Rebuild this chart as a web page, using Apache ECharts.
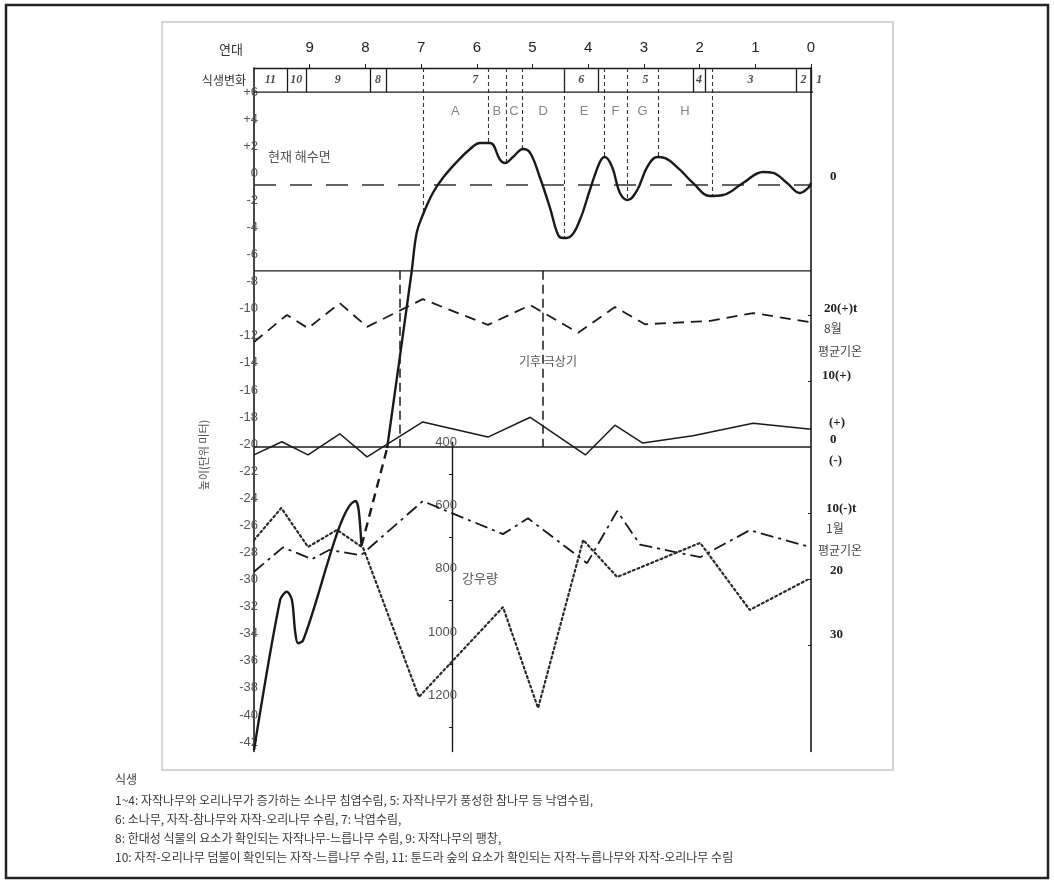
<!DOCTYPE html>
<html><head><meta charset="utf-8">
<script src="https://cdn.jsdelivr.net/npm/echarts@6/dist/echarts.min.js"></script>
<style>html,body{margin:0;padding:0;background:#fff}#c{width:1054px;height:880px}</style>
</head><body><div id="c"></div>
<script>
// ================= DATA =================
// x = 천년 전 (ka BP), 0 = 현재
const yearTicks   = [0, 1, 2, 3, 4, 5, 6, 7, 8, 9];
const depthTicks  = [-42,-40,-38,-36,-34,-32,-30,-28,-26,-24,-22,-20,-18,-16,-14,-12,-10,-8,-6,-4,-2,0,2,4,6];
const precipTicks = [400, 600, 800, 1000, 1200];
const precipMinorTicks = [500, 700, 900, 1100, 1300];

// 해수면 곡선 (m)
const seaLowKa  = [10.0, 9.53, 9.41, 9.32, 9.26, 9.21, 9.12, 8.17, 8.12, 8.07];
const seaLowM   = [-42.6, -31.5, -30.9, -31.5, -33.9, -34.7, -34.5, -24.2, -24.9, -27.5];
const seaGapKa  = [8.07, 7.61];
const seaGapM   = [-27.5, -20.3];
const seaHighKa = [7.61, 7.17, 7.08, 6.97, 6.79, 6.61, 6.36, 6.12, 5.94, 5.76, 5.58, 5.49, 5.35, 5.17, 5.04, 4.87, 4.69, 4.54, 4.45, 4.33, 4.15, 3.97, 3.79, 3.70, 3.57, 3.43, 3.29, 3.12, 2.94, 2.76, 2.62, 2.35, 2.12, 1.81, 1.58, 1.22, 0.86, 0.68, 0.43, 0.20, 0.05, 0.0];
const seaHighM  = [-20.3, -7.27, -4.41, -3.08, -1.45, -0.34, 0.84, 1.80, 2.24, 2.24, 0.99, 0.76, 1.21, 1.80, 1.50, -0.27, -2.49, -4.55, -4.78, -4.70, -3.45, -1.23, 0.84, 1.21, 0.47, -1.45, -1.97, -1.23, 0.47, 1.21, 1.13, 0.25, -0.71, -1.67, -1.60, -0.71, 0.10, 0.03, -0.71, -1.45, -1.08, -0.71];
const presentSeaLevel = -0.86;
const panelDivider = -7.2;

// 식생변화 구간
const vegBounds = [10, 9.41, 9.07, 7.92, 7.63, 4.43, 3.82, 2.12, 1.90, 0.27, 0, -0.3];
const vegLabels = ['11', '10', '9', '8', '7', '6', '5', '4', '3', '2', '1'];
// 해수면 시기 구분
const periodBounds = [6.97, 5.80, 5.48, 5.19, 4.43, 3.72, 3.30, 2.75, 1.78];
const periodLabels = ['A', 'B', 'C', 'D', 'E', 'F', 'G', 'H'];
// 기후 극상기
const optimumBounds = [7.38, 4.81];

// 기온 (°C)
const augKa  = [10.0, 9.41, 9.03, 8.46, 7.97, 6.97, 5.80, 5.04, 4.18, 3.52, 2.98, 1.81, 1.04, 0.0];
const augT   = [15.9, 20.0, 18.0, 21.8, 18.2, 22.4, 18.5, 21.5, 17.3, 21.2, 18.6, 19.1, 20.3, 18.9];
const annKa  = [10.0, 9.50, 9.03, 8.46, 7.97, 6.97, 5.80, 5.04, 4.05, 3.52, 3.02, 2.12, 1.04, 0.0];
const annT   = [-1.2, 0.8, -1.2, 2.0, -1.5, 3.8, 1.5, 4.5, -1.2, 3.3, 0.6, 1.7, 3.6, 2.7];
const janKa  = [10.0, 9.48, 8.96, 8.65, 8.08, 6.97, 5.53, 5.08, 4.02, 3.48, 3.07, 1.99, 1.10, 0.0];
const janT   = [-18.9, -15.2, -17.0, -15.6, -16.4, -8.2, -13.2, -10.8, -17.6, -9.7, -14.8, -16.7, -12.6, -15.2];
// 강우량 (mm)
const rainKa = [10.0, 9.51, 9.03, 8.51, 8.04, 7.04, 5.53, 4.90, 4.09, 3.48, 1.99, 1.10, 0.07];
const rainP  = [709, 608, 731, 677, 734, 1205, 921, 1240, 709, 826, 718, 930, 835];

// ================= LAYOUT =================
const W = 1054, H = 880;
const GL = 254, GR = 811, GT = 68, GB = 751.5;
const Y_MAX = 7.78, Y_MIN = -42.7;
const pxPerM = (GB - GT) / (Y_MAX - Y_MIN);
const TEMP_ZERO_Y = 447, TEMP_PX = 6.6;
const P400_Y = 442.2, P_PX = 0.3165, P_AXIS_X = 452;
const tempZeroM = Y_MAX - (TEMP_ZERO_Y - GT) / pxPerM;

const xy = (xs, ys) => xs.map((x, i) => [x, ys[i]]);
function interp(xs, ys, x) {
  for (let i = 0; i < xs.length - 1; i++) {
    if ((xs[i] - x) * (xs[i + 1] - x) <= 0) {
      const t = (x - xs[i]) / (xs[i + 1] - xs[i]);
      return ys[i] + t * (ys[i + 1] - ys[i]);
    }
  }
  return ys[ys.length - 1];
}
const mid = (arr) => arr.slice(0, -1).map((b, i) => (b + arr[i + 1]) / 2);

const INK = '#1a1a1a';
const KFONT = '"Noto Sans CJK KR", "Noto Sans", sans-serif';

const chart = echarts.init(document.getElementById('c'), null, { renderer: 'canvas' });

const lineSeries = (data, style, extra) => Object.assign({
  type: 'line', data, symbol: 'none', silent: true, animation: false,
  lineStyle: style, xAxisIndex: 0, yAxisIndex: 0, clip: false, z: 3
}, extra || {});

const series = [
  // sea level curve
  lineSeries(xy(seaLowKa, seaLowM), { color: INK, width: 2.4, join: 'round' }, { smooth: 0.3, z: 5 }),
  lineSeries(xy(seaGapKa, seaGapM), { color: INK, width: 2.4, type: [9, 6] }, { z: 5 }),
  lineSeries(xy(seaHighKa, seaHighM), { color: INK, width: 2.4, join: 'round' }, { smooth: 0.4, z: 5 }),
  // present sea level
  lineSeries([[10, presentSeaLevel], [0, presentSeaLevel]], { color: '#333', width: 1.4, type: [22, 14] }),
  // panel divider
  lineSeries([[10, panelDivider], [0, panelDivider]], { color: INK, width: 1.3 }),
  // 0 degree line (temperature axis)
  lineSeries([[10, 0], [0, 0]], { color: INK, width: 1.3 }, { yAxisIndex: 1 }),
  // vegetation box bottom
  lineSeries([[vegBounds[0], 6], [vegBounds[vegBounds.length - 1], 6]], { color: INK, width: 1.3 }),
  // temperatures
  lineSeries(xy(augKa, augT), { color: INK, width: 1.8, type: [11, 7] }, { yAxisIndex: 1 }),
  lineSeries(xy(annKa, annT), { color: INK, width: 1.5 }, { yAxisIndex: 1 }),
  lineSeries(xy(janKa, janT), { color: INK, width: 1.8, type: [13, 5, 3, 5] }, { yAxisIndex: 1 }),
  // precipitation (second grid)
  lineSeries(xy(rainKa, rainP), { color: '#2a2a2a', width: 2.2, type: [2, 3], cap: 'round' }, { xAxisIndex: 1, yAxisIndex: 2 }),
  // vegetation box separators
  {
    type: 'lines', coordinateSystem: 'cartesian2d', xAxisIndex: 0, yAxisIndex: 0, silent: true, animation: false,
    lineStyle: { color: INK, width: 1.3, opacity: 1 },
    data: vegBounds.slice(1, -1).map(b => ({ coords: [[b, 6], [b, Y_MAX]] }))
  },
  // period boundaries (dashed, to the curve)
  {
    type: 'lines', coordinateSystem: 'cartesian2d', xAxisIndex: 0, yAxisIndex: 0, silent: true, animation: false,
    lineStyle: { color: '#333', width: 1.1, type: [4, 3], opacity: 1 },
    data: periodBounds.map(b => ({ coords: [[b, Y_MAX], [b, interp(seaHighKa, seaHighM, b)]] }))
  },
  // climate optimum boundaries
  {
    type: 'lines', coordinateSystem: 'cartesian2d', xAxisIndex: 0, yAxisIndex: 0, silent: true, animation: false,
    lineStyle: { color: INK, width: 1.5, type: [9, 5], opacity: 1 },
    data: optimumBounds.map(b => ({ coords: [[b, panelDivider], [b, tempZeroM]] }))
  },
  // vegetation labels
  {
    type: 'scatter', xAxisIndex: 0, yAxisIndex: 0, symbolSize: 0, silent: true, animation: false, clip: false,
    data: mid(vegBounds).map((c, i) => ({ value: [c, 6.89], name: vegLabels[i] })),
    label: { show: true, position: 'inside', formatter: p => p.name, color: INK,
      fontFamily: '"Liberation Serif", serif', fontStyle: 'italic', fontWeight: 'bold', fontSize: 12 }
  },
  // period labels
  {
    type: 'scatter', xAxisIndex: 0, yAxisIndex: 0, symbolSize: 0, silent: true, animation: false, clip: false,
    data: mid(periodBounds).map((c, i) => ({ value: [c, 4.6], name: periodLabels[i] })),
    label: { show: true, position: 'inside', formatter: p => p.name, color: '#666',
      fontFamily: '"Liberation Sans", sans-serif', fontSize: 13 }
  }
];

const gT = (text, x, y, o) => ({
  type: 'text', x, y, silent: true, z: 10,
  style: Object.assign({ text, fill: '#444', font: '12px ' + KFONT, textAlign: 'left', textVerticalAlign: 'middle' }, o || {})
});
const NUMF = 'bold 13px "Liberation Serif", serif';

const legendLines = [
  '식생',
  '1~4: 자작나무와 오리나무가 증가하는 소나무 침엽수림, 5: 자작나무가 풍성한 참나무 등 낙엽수림,',
  '6: 소나무, 자작-참나무와 자작-오리나무 수림, 7: 낙엽수림,',
  '8: 한대성 식물의 요소가 확인되는 자작나무-느릅나무 수림, 9: 자작나무의 팽창,',
  '10: 자작-오리나무 덤불이 확인되는 자작-느릅나무 수림, 11: 툰드라 숲의 요소가 확인되는 자작-누릅나무와 자작-오리나무 수림'
];
const legendY = [779, 800, 819, 838, 857];

const graphic = [
  { type: 'rect', silent: true, z: 0, shape: { x: 6, y: 5, width: 1042, height: 873 }, style: { fill: 'none', stroke: '#222', lineWidth: 2.5 } },
  { type: 'rect', silent: true, z: 0, shape: { x: 162, y: 22, width: 731, height: 748 }, style: { fill: 'none', stroke: '#c8c8c8', lineWidth: 1.5 } },
  gT('연대', 231, 49, { textAlign: 'center', fill: '#333', font: '13px ' + KFONT }),
  gT('식생변화', 246, 80, { textAlign: 'right', fill: '#333', font: '12px ' + KFONT }),
  gT('현재 해수면', 268, 156, { fill: '#555', font: '13px ' + KFONT }),
  gT('기후 극상기', 548, 361, { textAlign: 'center', fill: '#555', font: '12px ' + KFONT }),
  gT('강우량', 462, 578, { fill: '#555', font: '13px ' + KFONT }),
  { type: 'text', x: 204, y: 455, rotation: Math.PI / 2, silent: true, z: 10,
    style: { text: '높이(단위 미터)', fill: '#555', font: '11px ' + KFONT, textAlign: 'center', textVerticalAlign: 'middle' } },
  // right-side labels
  gT('0', 830, 177, { font: NUMF, fill: '#222' }),
  gT('20(+)t', 824, 309, { font: NUMF, fill: '#222' }),
  gT('8월', 824, 328, { fill: '#444' }),
  gT('평균기온', 818, 351, { fill: '#444' }),
  gT('10(+)', 822, 376, { font: NUMF, fill: '#222' }),
  gT('(+)', 829, 423, { font: NUMF, fill: '#222' }),
  gT('0', 830, 440, { font: NUMF, fill: '#222' }),
  gT('(-)', 829, 461, { font: NUMF, fill: '#222' }),
  gT('10(-)t', 826, 509, { font: NUMF, fill: '#222' }),
  gT('1월', 826, 528, { fill: '#444' }),
  gT('평균기온', 818, 550, { fill: '#444' }),
  gT('20', 830, 571, { font: NUMF, fill: '#222' }),
  gT('30', 830, 635, { font: NUMF, fill: '#222' })
].concat(legendLines.map((t, i) => gT(t, 115, legendY[i], { fill: '#3a3a3a', font: '12px ' + KFONT })));

const option = {
  animation: false,
  backgroundColor: '#fff',
  grid: [
    { left: GL, right: W - GR, top: GT, bottom: H - GB },
    { left: GL, right: W - GR, top: P400_Y, bottom: H - GB }
  ],
  xAxis: [
    {
      type: 'value', gridIndex: 0, min: 0, max: 10, inverse: true, position: 'top',
      axisLine: { show: true, onZero: false, lineStyle: { color: INK, width: 1.3 } },
      axisTick: { show: true, length: 4, customValues: yearTicks, lineStyle: { color: INK } },
      axisLabel: { customValues: yearTicks, margin: 13, color: '#222', fontSize: 15, fontFamily: '"Liberation Sans", sans-serif' },
      splitLine: { show: false }
    },
    { type: 'value', gridIndex: 1, min: 0, max: 10, inverse: true, show: false, axisLine: { onZero: false } }
  ],
  yAxis: [
    {
      type: 'value', gridIndex: 0, min: Y_MIN, max: Y_MAX, position: 'left',
      axisLine: { show: true, onZero: false, lineStyle: { color: INK, width: 1.6 } },
      axisTick: { show: false },
      axisLabel: { customValues: depthTicks, margin: -4, color: '#555', fontSize: 13, fontFamily: '"Liberation Sans", sans-serif',
        formatter: v => (v > 0 ? '+' + v : String(v)) },
      splitLine: { show: false }
    },
    {
      type: 'value', gridIndex: 0, position: 'right',
      min: -(GB - TEMP_ZERO_Y) / TEMP_PX, max: (TEMP_ZERO_Y - GT) / TEMP_PX,
      axisLine: { show: true, onZero: false, lineStyle: { color: INK, width: 1.6 } },
      axisTick: { show: true, length: 3, inside: true, customValues: [-30, -20, -10, 10, 20], lineStyle: { color: INK } },
      axisLabel: { show: false },
      splitLine: { show: false }
    },
    {
      type: 'value', gridIndex: 1, position: 'left', offset: -(P_AXIS_X - GL), inverse: true,
      min: 400, max: 400 + (GB - P400_Y) / P_PX,
      axisLine: { show: true, onZero: false, lineStyle: { color: INK, width: 1.4 } },
      axisTick: { show: true, length: 3, customValues: precipMinorTicks, lineStyle: { color: INK } },
      axisLabel: { customValues: precipTicks, margin: -5, color: '#555', fontSize: 13, fontFamily: '"Liberation Sans", sans-serif',
        formatter: v => String(v) },
      splitLine: { show: false }
    }
  ],
  series,
  graphic
};
chart.setOption(option);
</script></body></html>
